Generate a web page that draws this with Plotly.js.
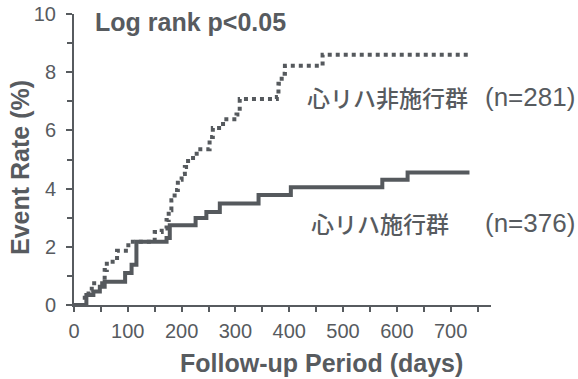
<!DOCTYPE html>
<html>
<head>
<meta charset="utf-8">
<script src="https://cdn.plot.ly/plotly-3.0.1.min.js"></script>
<style>html,body{margin:0;padding:0;background:#fff;}#chart{width:578px;height:379px;}</style>
</head>
<body>
<div id="chart"></div>
<script>
// Cardiac rehab group (n=376) - solid
const rehabDays = [0, 23, 36, 48, 57, 95, 107, 116, 172, 178, 226, 246, 271, 343, 403, 573, 620, 735];
const rehabRate = [0, 0.34, 0.46, 0.63, 0.8, 1.1, 1.38, 2.17, 2.3, 2.74, 2.99, 3.2, 3.49, 3.78, 4.05, 4.3, 4.55, 4.55];
// Non-rehab group (n=281) - dotted
const nonRehabDays = [0, 20, 27, 33, 57, 61, 80, 101, 150, 163, 172, 176, 181, 187, 193, 200, 206, 212, 228, 252, 258, 277, 302, 308, 377, 380, 386, 392, 462, 732];
const nonRehabRate = [0, 0.35, 0.5, 0.75, 1.2, 1.49, 1.86, 2.17, 2.51, 2.63, 2.92, 3.26, 3.6, 3.95, 4.3, 4.5, 4.74, 5.05, 5.35, 5.77, 6.08, 6.38, 6.55, 7.08, 7.15, 7.6, 7.95, 8.22, 8.6, 8.6];

const labelNon = "心リハ非施行群";
const labelRehab = "心リハ施行群";
const nNon = "(n=281)";
const nRehab = "(n=376)";
const pText = "Log rank p<0.05";
const xTitle = "Follow-up Period (days)";
const yTitle = "Event Rate (%)";

const ink = "#575b5f";
const lineInk = "#55595d";
const fam = "Liberation Sans, Arial, Noto Sans CJK JP, sans-serif";

const traces = [
  {x: nonRehabDays, y: nonRehabRate, mode: "lines", line: {shape: "hv", color: lineInk, width: 4, dash: "4px,4px"}, hoverinfo: "none"},
  {x: rehabDays, y: rehabRate, mode: "lines", line: {shape: "hv", color: lineInk, width: 4}, hoverinfo: "none"}
];

const L = 74, R = 87, T = 14, B = 74, W = 578, H = 379;
const pw = W - L - R, ph = H - T - B;
const px = v => (v - L) / pw;          // page x pixel -> paper
const py = v => (H - B - v) / ph;      // page y pixel -> paper

const layout = {
  width: W, height: H,
  margin: {l: L, r: R, t: T, b: B},
  paper_bgcolor: "#fff", plot_bgcolor: "#fff",
  showlegend: false,
  font: {family: fam, color: ink},
  xaxis: {
    range: [0, 775], showgrid: false, zeroline: false,
    showline: true, linecolor: ink, linewidth: 2,
    ticks: "outside", ticklen: 5, tickwidth: 2, tickcolor: ink,
    tick0: 0, dtick: 100, ticklabelstandoff: 2,
    minor: {ticks: "outside", dtick: 50, ticklen: 5, tickwidth: 2, tickcolor: ink, showgrid: false},
    tickfont: {size: 20, color: ink}
  },
  yaxis: {
    range: [0, 10], showgrid: false, zeroline: false,
    showline: true, linecolor: ink, linewidth: 2,
    ticks: "outside", ticklen: 6, tickwidth: 2, tickcolor: ink,
    tick0: 0, dtick: 2, ticklabelstandoff: 6,
    minor: {ticks: "outside", dtick: 1, ticklen: 5, tickwidth: 2, tickcolor: ink, showgrid: false},
    tickfont: {size: 20, color: ink}
  },
  annotations: [
    {text: pText, x: px(93), y: py(22), xref: "paper", yref: "paper", xanchor: "left", yanchor: "middle", showarrow: false, font: {size: 25, color: ink, weight: "bold"}},
    {text: labelNon, x: px(305), y: py(97), xref: "paper", yref: "paper", xanchor: "left", yanchor: "middle", showarrow: false, font: {size: 23, color: ink, family: "Noto Sans CJK JP", weight: 500}},
    {text: nNon, x: px(577), y: py(97), xref: "paper", yref: "paper", xanchor: "right", yanchor: "middle", showarrow: false, font: {size: 26, color: ink}},
    {text: labelRehab, x: px(309), y: py(223), xref: "paper", yref: "paper", xanchor: "left", yanchor: "middle", showarrow: false, font: {size: 23, color: ink, family: "Noto Sans CJK JP", weight: 500}},
    {text: nRehab, x: px(577), y: py(223), xref: "paper", yref: "paper", xanchor: "right", yanchor: "middle", showarrow: false, font: {size: 26, color: ink}},
    {text: xTitle, x: px(321), y: py(363), xref: "paper", yref: "paper", xanchor: "center", yanchor: "middle", showarrow: false, font: {size: 25, color: ink, weight: "bold"}},
    {text: yTitle, x: px(20), y: py(168), xref: "paper", yref: "paper", xanchor: "center", yanchor: "middle", textangle: -90, showarrow: false, font: {size: 25, color: ink, weight: "bold"}}
  ]
};

Plotly.newPlot("chart", traces, layout, {displayModeBar: false, staticPlot: true});
</script>
</body>
</html>
